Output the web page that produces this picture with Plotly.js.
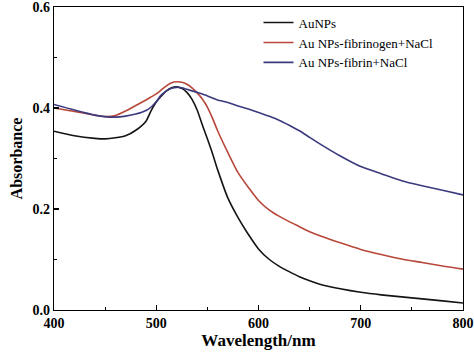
<!DOCTYPE html>
<html><head><meta charset="utf-8">
<script src="https://cdn.plot.ly/plotly-3.0.1.min.js"></script>
<style>html,body{margin:0;padding:0;background:#fff}#chart{width:474px;height:356px}</style>
</head><body><div id="chart"></div>
<script>
const wavelength = [400,420,440,450,460,470,480,490,495,500,505,510,515,520,525,530,535,540,545,550,555,560,570,580,590,600,610,620,630,640,650,660,680,700,720,740,760,780,800];
const auNPs = [0.354,0.345,0.340,0.339,0.341,0.345,0.356,0.374,0.395,0.412,0.424,0.434,0.440,0.442,0.439,0.431,0.417,0.396,0.367,0.339,0.310,0.278,0.222,0.183,0.150,0.121,0.101,0.087,0.076,0.066,0.058,0.051,0.042,0.035,0.030,0.026,0.022,0.018,0.014];
const fibrinogen = [0.400,0.393,0.386,0.383,0.385,0.394,0.405,0.416,0.422,0.428,0.436,0.444,0.450,0.452,0.451,0.447,0.440,0.430,0.418,0.402,0.380,0.355,0.312,0.272,0.243,0.217,0.199,0.186,0.175,0.165,0.155,0.147,0.133,0.120,0.110,0.101,0.094,0.087,0.081];
const fibrin = [0.407,0.396,0.386,0.383,0.382,0.384,0.388,0.395,0.402,0.413,0.426,0.434,0.439,0.441,0.440,0.437,0.434,0.431,0.428,0.424,0.420,0.416,0.411,0.404,0.398,0.391,0.384,0.376,0.366,0.355,0.342,0.329,0.305,0.284,0.270,0.256,0.246,0.237,0.228];
const seriesNames = ["AuNPs","Au NPs-fibrinogen+NaCl","Au NPs-fibrin+NaCl"];
const xTicks = [400,500,600,700,800];
const yTicks = [0.0,0.2,0.4,0.6];

const serif = "Liberation Serif";
const colors = ["#141414","#b8473a","#3b3a7e"];
const data = [auNPs, fibrinogen, fibrin].map((ys,i)=>({
  x: wavelength, y: ys, name: seriesNames[i], type: "scatter", mode: "lines",
  line: {color: colors[i], width: 1.6, shape: "spline", smoothing: 0.6}
}));
const axisCommon = {
  showline: true, linecolor: "#000", linewidth: 1.2, mirror: true,
  ticks: "inside", ticklen: 5, tickwidth: 1.2, tickcolor: "#000",
  showgrid: false, zeroline: false, ticklabeloverflow: "allow",
  tickfont: {family: serif, size: 14, color: "#000", weight: 700}
};
const layout = {
  width: 474, height: 356,
  margin: {l: 54, r: 11, t: 7, b: 46},
  paper_bgcolor: "#fff", plot_bgcolor: "#fff",
  showlegend: true,
  legend: {x: 0.5, y: 0.998, xanchor: "left", yanchor: "top", bgcolor: "rgba(0,0,0,0)",
    font: {family: serif, size: 13, color: "#000"}, tracegroupgap: 0, itemwidth: 30},
  xaxis: Object.assign({}, axisCommon, {
    range: [400, 800.01], tickvals: xTicks, ticktext: xTicks.map(String),
    minor: {dtick: 50, ticks: "inside", ticklen: 3, tickcolor: "#000", tickwidth: 1},
    title: {text: "Wavelength/nm", standoff: 4, font: {family: serif, size: 17, color: "#000", weight: 700}}
  }),
  yaxis: Object.assign({}, axisCommon, {
    range: [0, 0.6001], tickvals: yTicks, ticktext: yTicks.map(v=>v.toFixed(1)),
    minor: {dtick: 0.1, ticks: "inside", ticklen: 3, tickcolor: "#000", tickwidth: 1},
    title: {text: "Absorbance", standoff: 6, font: {family: serif, size: 16, color: "#000", weight: 700}}
  })
};
Plotly.newPlot("chart", data, layout, {displayModeBar: false, staticPlot: true});
</script>
</body></html>
